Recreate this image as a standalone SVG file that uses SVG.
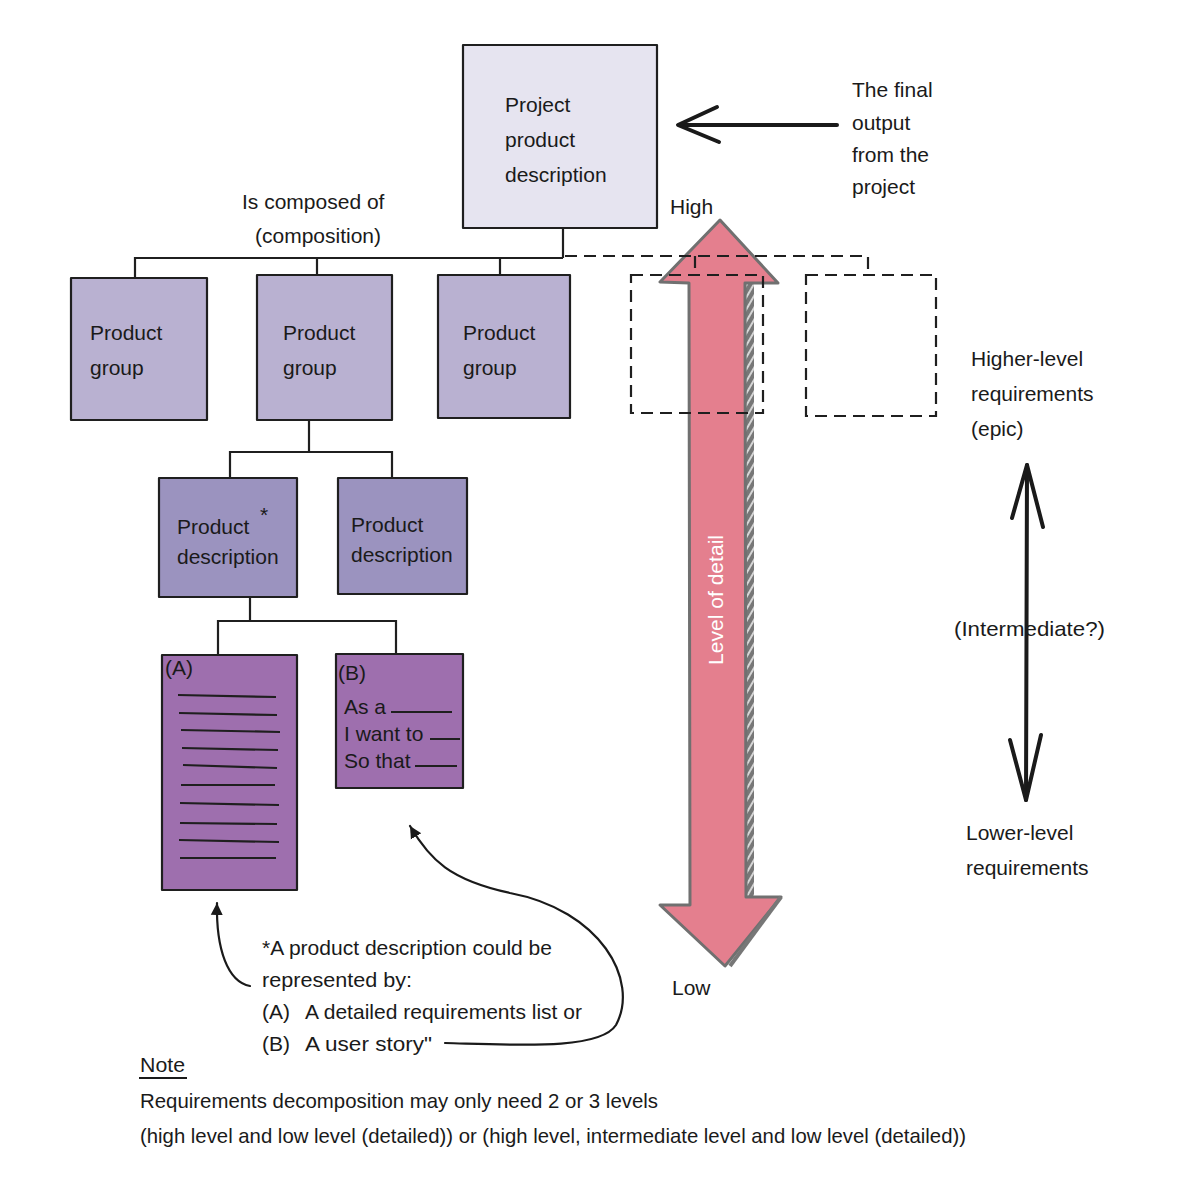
<svg xmlns="http://www.w3.org/2000/svg" width="1181" height="1182" viewBox="0 0 1181 1182">
<style>
text{font-family:"Liberation Sans","DejaVu Sans",sans-serif;font-size:21px;fill:#1a1a1a}
.box{stroke:#1f1f1f;stroke-width:2.2;stroke-linejoin:round}
.ln{stroke:#1f1f1f;stroke-width:2.2;fill:none}
.dash{stroke:#1f1f1f;stroke-width:2.2;fill:none;stroke-dasharray:12 7}
.bl{stroke:#1a1a1a;stroke-width:2.2;fill:none;stroke-linecap:round}
</style>
<defs>
<marker id="ah" markerWidth="14" markerHeight="14" refX="12" refY="7" orient="auto" markerUnits="userSpaceOnUse">
<path d="M0,1 L12,7 L0,13 Z" fill="#1a1a1a"/>
</marker>
<pattern id="hatch" width="6" height="6" patternUnits="userSpaceOnUse" patternTransform="rotate(-60)">
<rect width="6" height="6" fill="#777"/>
<line x1="0" y1="3" x2="6" y2="3" stroke="#fff" stroke-width="1.4"/>
</pattern>
</defs>
<rect width="1181" height="1182" fill="#fff"/>

<g id="level-arrow">
<rect x="744" y="283" width="10" height="615" fill="url(#hatch)"/>
<path d="M720,220 L660,282 L689,283 L690,905 L660,905 L725,966 L781,897 L746,897 L745,283 L778,283 Z" fill="#e47f8e" stroke="#707070" stroke-width="3" stroke-linejoin="round"/>
<path d="M781,897 L730,966" stroke="#777" stroke-width="4" fill="none"/>
<text transform="translate(723,665) rotate(-90)" style="fill:#fff" font-size="22" textLength="130" lengthAdjust="spacingAndGlyphs">Level of detail</text>
</g>

<g id="connectors">
<path class="ln" d="M563,228 V258 M135,278 V258 H563 M317,258 V275 M500,258 V275"/>
<path class="dash" d="M565,256 H868 V275 M695,256 V275"/>
<path class="ln" d="M309,420 V452 M230,478 V452 H392 V478"/>
<path class="ln" d="M250,597 V621 M218,655 V621 H396 V654"/>
<path d="M837,125 H680" stroke="#1a1a1a" stroke-width="4" fill="none" stroke-linecap="round"/>
<path d="M717,107 L678,125 L719,142" stroke="#1a1a1a" stroke-width="4" fill="none" stroke-linecap="round" stroke-linejoin="round"/>
<path d="M1027,465 L1026,800" stroke="#1a1a1a" stroke-width="4" fill="none" stroke-linecap="round"/>
<path d="M1012,518 L1027,465 L1043,527 M1010,740 L1026,800 L1041,735" stroke="#1a1a1a" stroke-width="4" fill="none" stroke-linecap="round" stroke-linejoin="round"/>
<path class="bl" d="M250,986 C228,982 216,950 217,903" marker-end="url(#ah)"/>
<path class="bl" d="M445,1043 C520,1045 600,1050 616,1025 C640,980 600,910 510,893 C450,880 430,860 410,826" marker-end="url(#ah)"/>
</g>

<g id="project">
<rect class="box" x="463" y="45" width="194" height="183" fill="#e6e4f0"/>
<text x="505" y="112">Project</text>
<text x="505" y="147">product</text>
<text x="505" y="182">description</text>
</g>
<g id="final-label">
<text x="852" y="97">The final</text>
<text x="852" y="130">output</text>
<text x="852" y="162">from the</text>
<text x="852" y="194">project</text>
</g>
<g id="composed-label">
<text x="242" y="209">Is composed of</text>
<text x="255" y="243">(composition)</text>
</g>

<g id="pg1"><rect class="box" x="71" y="278" width="136" height="142" fill="#b9b1d1"/><text x="90" y="340">Product</text><text x="90" y="375">group</text></g>
<g id="pg2"><rect class="box" x="257" y="275" width="135" height="145" fill="#b9b1d1"/><text x="283" y="340">Product</text><text x="283" y="375">group</text></g>
<g id="pg3"><rect class="box" x="438" y="275" width="132" height="143" fill="#b9b1d1"/><text x="463" y="340">Product</text><text x="463" y="375">group</text></g>

<g id="dbox1"><rect class="dash" x="631" y="275" width="132" height="138"/></g>
<g id="dbox2"><rect class="dash" x="806" y="275" width="130" height="141"/></g>
<text x="670" y="214">High</text>
<text x="672" y="995">Low</text>

<g id="pd1"><rect class="box" x="159" y="478" width="138" height="119" fill="#9b93bf"/><text x="177" y="534">Product</text><text x="177" y="564">description</text><text x="260" y="522" font-size="20">*</text></g>
<g id="pd2"><rect class="box" x="338" y="478" width="129" height="116" fill="#9b93bf"/><text x="351" y="532">Product</text><text x="351" y="562">description</text></g>

<g id="boxA">
<rect class="box" x="162" y="655" width="135" height="235" fill="#9e6fae"/>
<text x="165" y="675">(A)</text>
<path class="ln" d="M178,695 L276,697 M179,713 L277,715 M181,730 L280,732 M182,748 L278,750 M183,765 L277,768 M181,785 L275,785 M180,803 L279,805 M180,823 L277,824 M179,840 L279,842 M180,858 L276,858"/>
</g>
<g id="boxB">
<rect class="box" x="336" y="654" width="127" height="134" fill="#9e6fae"/>
<text x="338" y="680">(B)</text>
<text x="344" y="714">As a</text>
<text x="344" y="741">I want to</text>
<text x="344" y="768">So that</text>
<path class="ln" d="M391,712 H452 M430,739 H460 M415,766 H457"/>
</g>

<g id="right-labels">
<text x="971" y="366">Higher-level</text>
<text x="971" y="401">requirements</text>
<text x="971" y="436">(epic)</text>
<text x="954" y="636" textLength="151" lengthAdjust="spacingAndGlyphs">(Intermediate?)</text>
<text x="966" y="840">Lower-level</text>
<text x="966" y="875">requirements</text>
</g>

<g id="footnote">
<text x="262" y="955" textLength="290" lengthAdjust="spacingAndGlyphs">*A product description could be</text>
<text x="262" y="987" textLength="150" lengthAdjust="spacingAndGlyphs">represented by:</text>
<text x="262" y="1019">(A)<tspan x="305" textLength="277" lengthAdjust="spacingAndGlyphs">A detailed requirements list or</tspan></text>
<text x="262" y="1051">(B)<tspan x="305" textLength="127" lengthAdjust="spacingAndGlyphs">A user story"</tspan></text>
</g>
<g id="note">
<text x="140" y="1072" textLength="45" lengthAdjust="spacingAndGlyphs">Note</text>
<path d="M139,1078 H187" stroke="#1a1a1a" stroke-width="2"/>
<text x="140" y="1108" textLength="518" lengthAdjust="spacingAndGlyphs">Requirements decomposition may only need 2 or 3 levels</text>
<text x="140" y="1143" textLength="826" lengthAdjust="spacingAndGlyphs">(high level and low level (detailed)) or (high level, intermediate level and low level (detailed))</text>
</g>
</svg>
